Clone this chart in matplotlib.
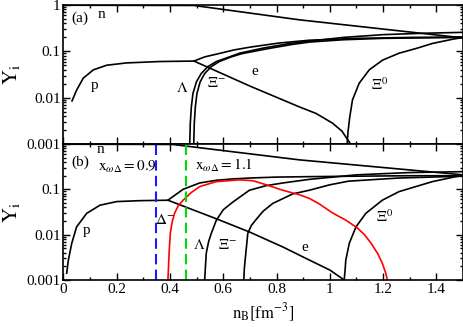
import numpy as np
import matplotlib
matplotlib.use("Agg")
import matplotlib.pyplot as plt
from matplotlib.ticker import MultipleLocator, LogLocator, FuncFormatter, NullFormatter

plt.rcParams['font.family'] = ['Liberation Serif', 'DejaVu Serif']
plt.rcParams['mathtext.fontset'] = 'stix'

# ---------------- Panel (a) data: nB [fm^-3], log10(Y_i) ----------------
n_a_x = [0.0, 0.49, 0.886, 1.5]
n_a_log = [-0.005, -0.01, -0.32, -0.71]

p_a_x = [0.032, 0.049, 0.074, 0.112, 0.162, 0.237, 0.361, 0.49, 0.53, 0.59, 0.64,
         0.70, 0.81, 0.924, 1.1, 1.3, 1.5]
p_a_log = [-2.07, -1.84, -1.58, -1.40, -1.30, -1.25, -1.22, -1.21, -1.12, -1.04, -0.97,
           -0.91, -0.82, -0.76, -0.72, -0.70, -0.69]

e_a_x = [0.49, 0.70, 0.886, 0.948, 1.01, 1.045, 1.078]
e_a_log = [-1.21, -1.75, -2.2, -2.34, -2.55, -2.72, -3.0]

lam_a_x = [0.474, 0.476, 0.480, 0.486, 0.499, 0.517, 0.542, 0.574, 0.623, 0.661,
           0.75, 0.85, 0.924, 1.05, 1.2, 1.35, 1.5]
lam_a_log = [-3.0, -2.56, -2.2, -1.91, -1.66, -1.48, -1.33, -1.22, -1.12, -1.04,
             -0.93, -0.83, -0.78, -0.70, -0.64, -0.61, -0.59]

xim_a_x = [0.489, 0.491, 0.495, 0.501, 0.513, 0.530, 0.555, 0.585, 0.630, 0.670,
           0.76, 0.86, 0.924, 1.05, 1.2, 1.35, 1.5]
xim_a_log = [-3.0, -2.56, -2.2, -1.91, -1.66, -1.48, -1.33, -1.22, -1.12, -1.05,
             -0.95, -0.85, -0.80, -0.75, -0.72, -0.71, -0.70]

xi0_a_x = [1.065, 1.068, 1.075, 1.085, 1.11, 1.148, 1.198, 1.26, 1.323, 1.385, 1.46, 1.5]
xi0_a_log = [-3.0, -2.75, -2.41, -2.05, -1.69, -1.40, -1.19, -1.04, -0.94, -0.83, -0.74, -0.70]

# ---------------- Panel (b) data ----------------
n_b_x = [0.0, 0.41, 0.886, 1.5]
n_b_log = [-0.005, -0.01, -0.35, -0.68]

p_b_x = [0.012, 0.018, 0.031, 0.049, 0.087, 0.137, 0.2, 0.286, 0.392, 0.449, 0.511,
         0.574, 0.636, 0.70, 0.80, 0.923, 1.1, 1.3, 1.5]
p_b_log = [-2.85, -2.57, -2.19, -1.83, -1.53, -1.35, -1.27, -1.25, -1.24, -1.0, -0.86,
           -0.80, -0.77, -0.75, -0.73, -0.72, -0.71, -0.70, -0.70]

e_b_x = [0.392, 0.574, 0.698, 0.823, 0.923, 1.0, 1.054]
e_b_log = [-1.24, -1.65, -1.94, -2.27, -2.56, -2.78, -3.0]

dm_b_x = [0.392, 0.394, 0.397, 0.401, 0.408, 0.417, 0.43, 0.449, 0.48, 0.511, 0.574,
          0.661, 0.711, 0.761, 0.823, 0.886, 0.923, 0.96, 1.01, 1.06, 1.103, 1.13,
          1.155, 1.18, 1.197, 1.21, 1.216]
dm_b_log = [-3.0, -2.75, -2.35, -1.97, -1.72, -1.53, -1.37, -1.24, -1.07, -0.94, -0.83,
            -0.79, -0.81, -0.9, -1.02, -1.12, -1.2, -1.32, -1.52, -1.68, -1.85, -2.0,
            -2.19, -2.42, -2.63, -2.85, -3.0]

lam_b_x = [0.53, 0.533, 0.536, 0.545, 0.555, 0.574, 0.60, 0.636, 0.698, 0.76, 0.823,
           0.923, 1.1, 1.3, 1.5]
lam_b_log = [-3.0, -2.7, -2.41, -2.15, -1.97, -1.68, -1.45, -1.28, -1.02, -0.92, -0.86,
             -0.78, -0.68, -0.63, -0.61]

xim_b_x = [0.677, 0.679, 0.682, 0.692, 0.705, 0.724, 0.75, 0.786, 0.861, 0.923, 1.0,
           1.07, 1.26, 1.5]
xim_b_log = [-3.0, -2.75, -2.56, -1.97, -1.8, -1.66, -1.48, -1.31, -1.1, -1.02, -0.9,
             -0.82, -0.75, -0.71]

xi0_b_x = [1.054, 1.057, 1.06, 1.073, 1.098, 1.135, 1.197, 1.26, 1.385, 1.473, 1.5]
xi0_b_log = [-3.0, -2.8, -2.56, -2.19, -1.83, -1.53, -1.24, -1.05, -0.83, -0.72, -0.70]

# threshold densities (dashed lines)
x_wd_values = ["0.9", "1.1"]
x_wd_density = [0.346, 0.459]
x_wd_colors = ['#1a1aff', '#00dd00']

W, H = 464, 327
fig = plt.figure(figsize=(W / 100, H / 100), dpi=100)
L, R = 63.5 / W, 463 / W
axa = fig.add_axes([L, 1 - 144 / H, R - L, 139 / H])
axb = fig.add_axes([L, 1 - 280 / H, R - L, 136 / H])

lw = 1.2
k = 'black'


def Y(v):
    return 10 ** np.asarray(v)


axa.plot(n_a_x, Y(n_a_log), color=k, lw=lw)
axa.plot(p_a_x, Y(p_a_log), color=k, lw=lw)
axa.plot(e_a_x, Y(e_a_log), color=k, lw=lw)
axa.plot(lam_a_x, Y(lam_a_log), color=k, lw=lw)
axa.plot(xim_a_x, Y(xim_a_log), color=k, lw=lw)
axa.plot(xi0_a_x, Y(xi0_a_log), color=k, lw=lw)

axb.plot(n_b_x, Y(n_b_log), color=k, lw=lw)
axb.plot(p_b_x, Y(p_b_log), color=k, lw=lw)
axb.plot(e_b_x, Y(e_b_log), color=k, lw=lw)
axb.plot(lam_b_x, Y(lam_b_log), color=k, lw=lw)
axb.plot(xim_b_x, Y(xim_b_log), color=k, lw=lw)
axb.plot(xi0_b_x, Y(xi0_b_log), color=k, lw=lw)
axb.plot(dm_b_x, Y(dm_b_log), color='red', lw=lw)
for xv, c in zip(x_wd_density, x_wd_colors):
    axb.axvline(xv, color=c, lw=1.5, dashes=(5, 2.5))

for ax in (axa, axb):
    ax.set_xlim(0, 1.5)
    ax.set_yscale('log')
    ax.set_ylim(1e-3, 1)
    ax.xaxis.set_major_locator(MultipleLocator(0.2))
    ax.xaxis.set_minor_locator(MultipleLocator(0.1))
    ax.yaxis.set_major_locator(LogLocator(base=10, numticks=10))
    ax.yaxis.set_minor_locator(LogLocator(base=10, subs=np.arange(2, 10), numticks=10))
    ax.yaxis.set_minor_formatter(NullFormatter())
    ax.tick_params(which='both', direction='in', top=True, right=True,
                   labelsize=11, pad=2, width=1)
    ax.tick_params(which='major', length=5)
    ax.tick_params(which='minor', length=2.5)
    for s in ax.spines.values():
        s.set_linewidth(1.2)
    ax.set_ylabel(r'$\mathrm{Y_i}$', fontsize=15, labelpad=3)

axa.tick_params(labelbottom=False)
axa.yaxis.set_major_formatter(FuncFormatter(lambda v, p: '%g' % v))
axb.yaxis.set_major_formatter(FuncFormatter(lambda v, p: '%g' % v if v < 0.5 else ''))
axb.xaxis.set_major_formatter(FuncFormatter(lambda v, p: '%g' % round(v, 2)))

fs = 11
# panel (a) labels
axa.text(0.062, 0.52, '(a)', fontsize=fs, ha='center', va='center')
axa.text(0.144, 0.61, 'n', fontsize=fs, ha='center', va='center')
axa.text(0.118, 0.0187, 'p', fontsize=fs, ha='center', va='center')
axa.text(0.447, 0.016, r'$\Lambda$', fontsize=fs, ha='center', va='center')
axa.text(0.575, 0.021, r'$\Xi^{-}$', fontsize=fs, ha='center', va='center')
axa.text(0.717, 0.036, 'e', fontsize=fs, ha='center', va='center')
axa.text(1.185, 0.019, r'$\Xi^{0}$', fontsize=fs, ha='center', va='center')

# panel (b) labels
axb.text(0.062, 0.40, '(b)', fontsize=fs, ha='center', va='center')
axb.text(0.137, 0.74, 'n', fontsize=fs, ha='center', va='center')
axb.text(0.129, 0.31, r'$\mathrm{x}_{\omega\Delta}\mathrm{=' + x_wd_values[0] + '}$',
         fontsize=fs, ha='left', va='center')
axb.text(0.492, 0.33, r'$\mathrm{x}_{\omega\Delta}\mathrm{=' + x_wd_values[1] + '}$',
         fontsize=fs, ha='left', va='center')
axb.text(0.38, 0.021, r'$\Delta^{-}$', fontsize=fs, ha='center', va='center')
axb.text(0.088, 0.0126, 'p', fontsize=fs, ha='center', va='center')
axb.text(0.511, 0.0059, r'$\Lambda$', fontsize=fs, ha='center', va='center')
axb.text(0.616, 0.0059, r'$\Xi^{-}$', fontsize=fs, ha='center', va='center')
axb.text(0.904, 0.0053, 'e', fontsize=fs, ha='center', va='center')
axb.text(1.204, 0.0245, r'$\Xi^{0}$', fontsize=fs, ha='center', va='center')

fig.text(263 / W, 1 - 313 / H, r'$\mathrm{n_B[fm^{-3}]}$', fontsize=12,
         ha='center', va='center')

fig.savefig('out.png', dpi=100)
